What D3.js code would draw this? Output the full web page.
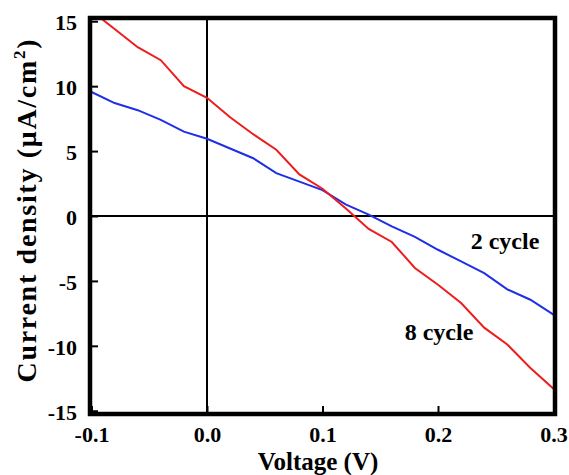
<!DOCTYPE html>
<html><head><meta charset="utf-8">
<script src="https://cdn.jsdelivr.net/npm/d3@7"></script>
<style>body{margin:0;background:#fff}svg{display:block}text{font-family:"Liberation Serif","Times New Roman",serif;font-weight:bold;fill:#000}</style>
</head><body>
<script>
const voltage = [-0.1,-0.08,-0.06,-0.04,-0.02,0.0,0.02,0.04,0.06,0.08,0.1,0.12,0.14,0.16,0.18,0.2,0.22,0.24,0.26,0.28,0.3];
const cycle2 = [9.55,8.7,8.15,7.4,6.5,5.95,5.2,4.45,3.3,2.65,2.0,0.9,0.1,-0.8,-1.6,-2.6,-3.5,-4.4,-5.65,-6.45,-7.6];
const cycle8 = [15.8,14.4,13.0,12.0,10.0,9.1,7.6,6.3,5.1,3.2,2.1,0.6,-1.0,-2.0,-4.0,-5.3,-6.7,-8.6,-9.9,-11.7,-13.3];
const xTicks = [-0.1,0.0,0.1,0.2,0.3];
const xTickLabels = ["-0.1","0.0","0.1","0.2","0.3"];
const yTicks = [-15,-10,-5,0,5,10,15];
const yTickLabels = ["-15","-10","-5","0","5","10","15"];
const seriesNames = ["2 cycle","8 cycle"];

const W = 569, H = 475;
const svg = d3.select("body").append("svg").attr("width", W).attr("height", H);
const L = 90, R = 555, T = 18, B = 414;
const x = d3.scaleLinear().domain([-0.1013, 0.3013]).range([L, R]);
const y = d3.scaleLinear().domain([-15.25, 15.25]).range([B, T]);

svg.append("defs").append("clipPath").attr("id","clip")
  .append("rect").attr("x", L).attr("y", T).attr("width", R-L).attr("height", B-T);

// zero lines
svg.append("line").attr("x1", x(0)).attr("x2", x(0)).attr("y1", T).attr("y2", B)
  .attr("stroke","#000").attr("stroke-width",2);
svg.append("line").attr("x1", L).attr("x2", R).attr("y1", y(0)).attr("y2", y(0))
  .attr("stroke","#000").attr("stroke-width",2);

const line = d3.line().x((d,i)=>x(voltage[i])).y(d=>y(d));
const g = svg.append("g").attr("clip-path","url(#clip)");
g.append("path").datum(cycle2).attr("d", line).attr("fill","none").attr("stroke","#1f2fe6").attr("stroke-width",2);
g.append("path").datum(cycle8).attr("d", line).attr("fill","none").attr("stroke","#ee1c1c").attr("stroke-width",2);

// axes
const xAxis = d3.axisBottom(x).tickValues(xTicks).tickSize(-8).tickPadding(12)
  .tickFormat((d,i)=>xTickLabels[i]);
const gx = svg.append("g").attr("transform",`translate(0,${B})`).call(xAxis);
gx.select(".domain").remove();
gx.selectAll(".tick line").attr("stroke","#000").attr("stroke-width",2);
gx.selectAll(".tick text").attr("font-size",22).attr("dy","0.71em")
  .style("font-family",'"Liberation Serif",serif').style("font-weight","bold");

const yAxis = d3.axisLeft(y).tickValues(yTicks).tickSize(-8).tickPadding(13)
  .tickFormat((d,i)=>yTickLabels[i]);
const gy = svg.append("g").attr("transform",`translate(${L},0)`).call(yAxis);
gy.select(".domain").remove();
gy.selectAll(".tick line").attr("stroke","#000").attr("stroke-width",2);
gy.selectAll(".tick text").attr("font-size",22).attr("dy","0.38em")
  .style("font-family",'"Liberation Serif",serif').style("font-weight","bold");

// frame
svg.append("rect").attr("x", L).attr("y", T).attr("width", R-L).attr("height", B-T)
  .attr("fill","none").attr("stroke","#000").attr("stroke-width",4.5);

// series labels
svg.append("text").attr("x", 505).attr("y", 243).attr("text-anchor","middle")
  .attr("dominant-baseline","middle").attr("font-size",24).text(seriesNames[0]);
svg.append("text").attr("x", 439).attr("y", 334).attr("text-anchor","middle")
  .attr("dominant-baseline","middle").attr("font-size",24).text(seriesNames[1]);

// axis titles
svg.append("text").attr("x", 318).attr("y", 470).attr("text-anchor","middle")
  .attr("font-size",25).text("Voltage (V)");
const yt = svg.append("text").attr("transform","translate(36,211) rotate(-90)")
  .attr("text-anchor","middle").attr("font-size",28)
  .attr("textLength",343).attr("lengthAdjust","spacing");
yt.append("tspan").text("Current density (μA/cm");
yt.append("tspan").attr("font-size",17).attr("dy",-11).text("2");
yt.append("tspan").attr("dy",11).text(")");
</script>
</body></html>
